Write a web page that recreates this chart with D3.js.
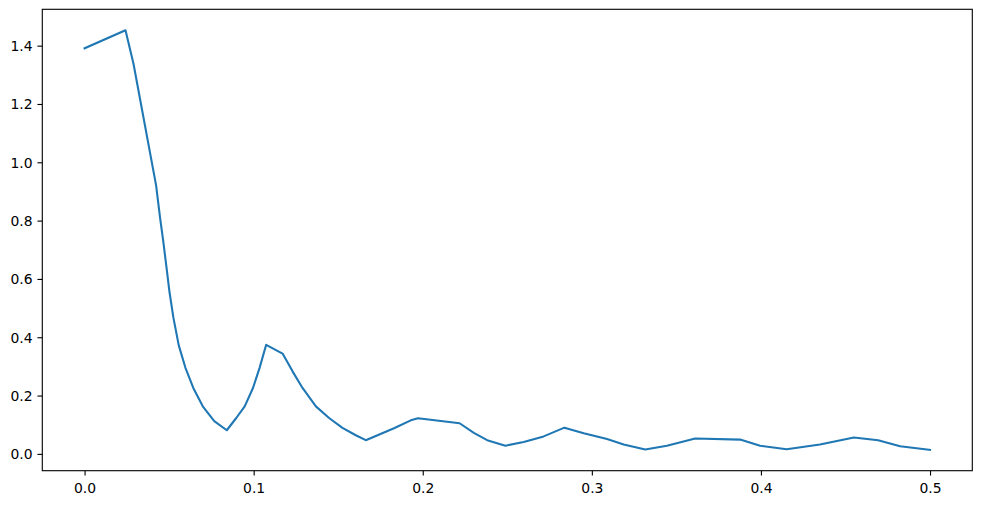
<!DOCTYPE html>
<html>
	<head>
		<meta charset="utf-8">
		<title>Spectrum</title>
		<script src="https://d3js.org/d3.v7.min.js"></script>
		<style>
			body { margin: 0; background: #fff; }
			svg text { font-family: "DejaVu Sans", sans-serif; font-size: 13.9px; fill: #000; }
		</style>
	</head>
	<body>
		<svg id="chart" width="981" height="505"></svg>

		<script>

			// values
			var freq = [0, 0.0242, 0.0289, 0.0423, 0.0447, 0.0466, 0.0484, 0.0502, 0.0525, 0.0557,
				0.0596, 0.0643, 0.0699, 0.0767, 0.0841, 0.0897, 0.0947, 0.0996, 0.1035, 0.1074,
				0.1171, 0.123, 0.1289, 0.1368, 0.1446, 0.1525, 0.1604, 0.1663, 0.183, 0.1929,
				0.1972, 0.2218, 0.2302, 0.2381, 0.2489, 0.2597, 0.2715, 0.2838, 0.2952, 0.309,
				0.3188, 0.3316, 0.3444, 0.3611, 0.3877, 0.3995, 0.4152, 0.4349, 0.455, 0.4693,
				0.4823, 0.5];
			var amp = [1.391, 1.453, 1.339, 0.921, 0.808, 0.726, 0.642, 0.556, 0.468, 0.372,
				0.296, 0.226, 0.163, 0.112, 0.081, 0.123, 0.163, 0.226, 0.295, 0.374,
				0.344, 0.283, 0.226, 0.163, 0.123, 0.089, 0.064, 0.047, 0.088, 0.115,
				0.122, 0.105, 0.072, 0.047, 0.028, 0.041, 0.060, 0.090, 0.071, 0.051,
				0.032, 0.015, 0.028, 0.053, 0.049, 0.028, 0.016, 0.032, 0.056, 0.047,
				0.026, 0.014];
			var x_ticks = [0, 0.1, 0.2, 0.3, 0.4, 0.5];
			var y_ticks = [0, 0.2, 0.4, 0.6, 0.8, 1.0, 1.2, 1.4];

			var plot_left = 42.3, plot_top = 9.3, plot_right = 972.3, plot_bottom = 470.7;
			var tick_len = 4.86, pad = 4.86;

			var svg = d3.select("#chart");

			var x_scaler = d3.scaleLinear().domain([-0.025, 0.525]).range([plot_left, plot_right]);
			var y_scaler = d3.scaleLinear().domain([-0.0577, 1.5247]).range([plot_bottom, plot_top]);

			var line = d3.line()
				.x(function(d, i) { return x_scaler(freq[i]); })
				.y(function(d) { return y_scaler(d); });

			svg.append("path")
				.attr("d", line(amp))
				.attr("fill", "none")
				.attr("stroke", "#1f77b4")
				.attr("stroke-width", 2.08)
				.attr("stroke-linejoin", "round")
				.attr("stroke-linecap", "square");

			var x_axis = svg.append("g")
				.attr("transform", "translate(0," + plot_bottom + ")")
				.call(d3.axisBottom(x_scaler).tickValues(x_ticks).tickFormat(d3.format(".1f"))
					.tickSize(tick_len).tickPadding(pad));

			var y_axis = svg.append("g")
				.attr("transform", "translate(" + plot_left + ",0)")
				.call(d3.axisLeft(y_scaler).tickValues(y_ticks).tickFormat(d3.format(".1f"))
					.tickSize(tick_len).tickPadding(pad));

			svg.selectAll(".domain").remove();
			svg.selectAll(".tick line").attr("stroke", "#000").attr("stroke-width", 1.11);
			svg.selectAll(".tick text").attr("font-family", null).attr("font-size", null);
			x_axis.selectAll(".tick text").attr("dy", null).attr("y", tick_len + pad + 12.9);
			y_axis.selectAll(".tick text").attr("dy", null).attr("y", 5);

			svg.append("rect")
				.attr("x", plot_left)
				.attr("y", plot_top)
				.attr("width", plot_right - plot_left)
				.attr("height", plot_bottom - plot_top)
				.attr("fill", "none")
				.attr("stroke", "#000")
				.attr("stroke-width", 1.11);

		</script>
	</body>
</html>
